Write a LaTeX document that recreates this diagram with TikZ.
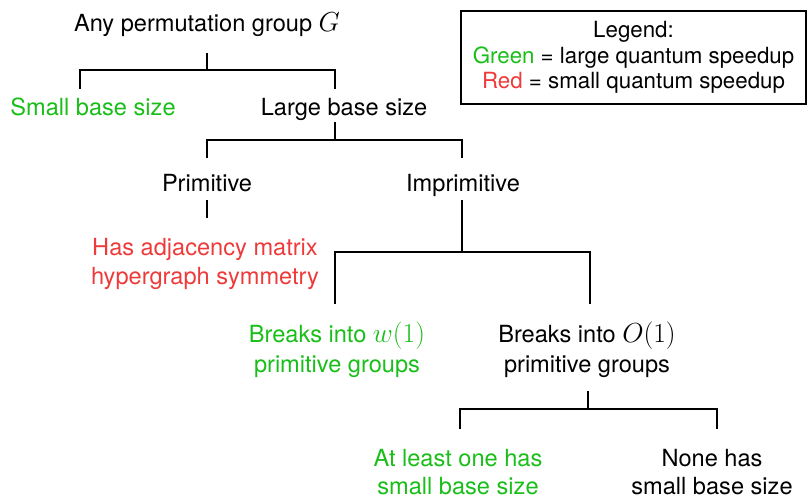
\RequirePackage{fix-cm}
\documentclass[tikz,border=0pt]{standalone}
\usepackage{fontspec}
\setmainfont{TeX Gyre Heros}
\definecolor{gr}{RGB}{25,190,25}
\definecolor{rd}{RGB}{238,58,58}
\newcommand\bigmath[1]{{\fontsize{27.5}{28.5}\selectfont$#1$}}
\begin{document}
\begin{tikzpicture}[x=1pt,y=-1pt,
  lbl/.style={align=center,inner sep=0pt,font=\fontsize{23.6}{28.5}\selectfont},
  edge/.style={line width=2.6pt}]
\useasboundingbox (0,0) rectangle (809,500);
% nodes
\node[lbl,anchor=base] (root) at (207,32) {Any permutation group \bigmath{G}};
\node[lbl,text=gr,anchor=base] (small) at (93,116) {Small base size};
\node[lbl,anchor=base] (large) at (344,116) {Large base size};
\node[lbl,anchor=base] (prim) at (207,192) {Primitive};
\node[lbl,anchor=base] (imprim) at (463,192) {Imprimitive};
\node[lbl,text=rd] (adj) at (205,264) {Has adjacency matrix\\hypergraph symmetry};
\node[lbl,text=gr] (wone) at (337,350) {Breaks into \bigmath{w(1)}\\[1pt]primitive groups};
\node[lbl] (oone) at (587,350) {Breaks into \bigmath{O(1)}\\[1pt]primitive groups};
\node[lbl,text=gr] (atleast) at (458,472) {At least one has\\small base size};
\node[lbl] (none) at (712,472) {None has\\small base size};
\node[draw,line width=2.6pt,minimum width=345pt,minimum height=93pt,align=center,
  font=\fontsize{22.3}{25.5}\selectfont] (legend) at (633.5,57.5)
  {Legend:\\\textcolor{gr}{Green} = large quantum speedup\\\textcolor{rd}{Red} = small quantum speedup};
% tree 1
\coordinate (a1) at (207,53); \coordinate (a2) at (207,70);
\coordinate (a3) at (80,89); \coordinate (a4) at (335,89);
\draw[edge] (a1) -- (a2);
\draw[edge] (a3) |- (a2) -| (a4);
% tree 2
\coordinate (b1) at (335,122); \coordinate (b2) at (335,140);
\coordinate (b3) at (207,158); \coordinate (b4) at (462,158);
\draw[edge] (b1) -- (b2);
\draw[edge] (b3) |- (b2) -| (b4);
% primitive
\coordinate (c1) at (207,200); \coordinate (c2) at (207,218);
\draw[edge] (c1) -- (c2);
% tree 3
\coordinate (d1) at (462,200); \coordinate (d2) at (462,252);
\coordinate (d3) at (335,304); \coordinate (d4) at (590,304);
\draw[edge] (d1) -- (d2);
\draw[edge] (d3) |- (d2) -| (d4);
% tree 4
\coordinate (e1) at (588,391); \coordinate (e2) at (588,409);
\coordinate (e3) at (460,429); \coordinate (e4) at (717,429);
\draw[edge] (e1) -- (e2);
\draw[edge] (e3) |- (e2) -| (e4);
\end{tikzpicture}
\end{document}
